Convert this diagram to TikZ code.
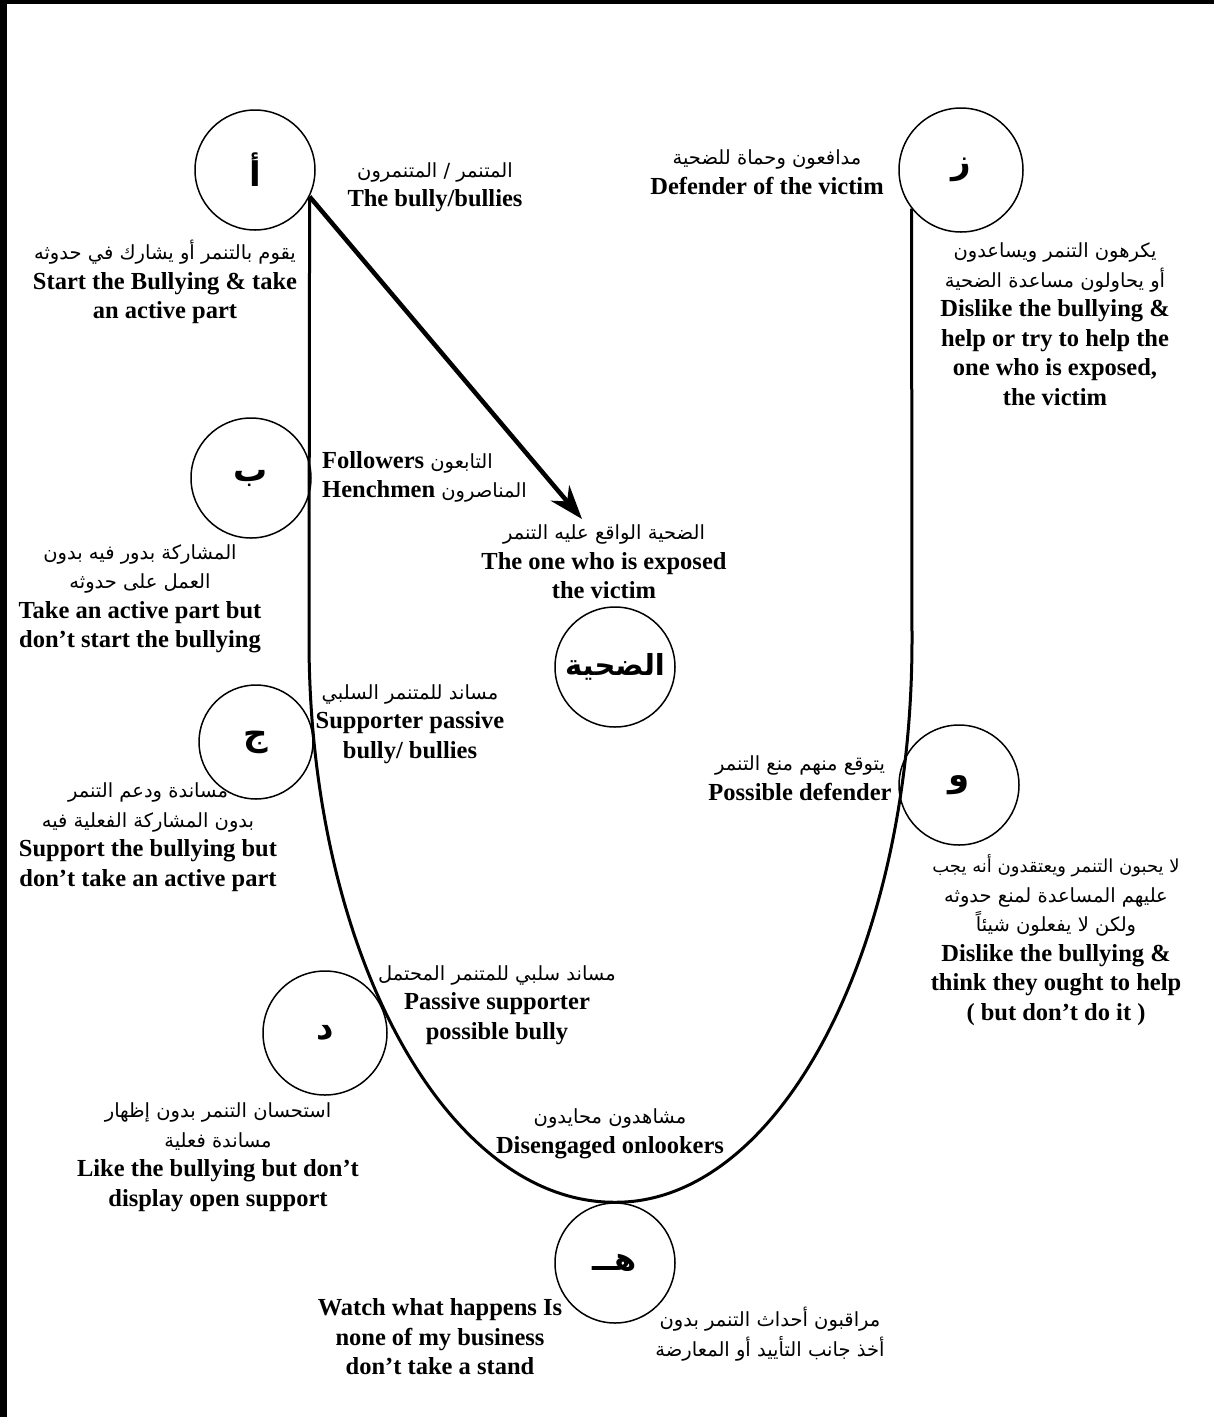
\documentclass[tikz,border=0pt]{standalone}
\usepackage{fontspec}
\setmainfont{Liberation Serif}
\newfontfamily\arabicfont[Script=Arabic]{DejaVu Sans}
\TeXXeTstate=1
\usetikzlibrary{arrows.meta}
\newcommand\artxt[1]{{\arabicfont\mdseries\fontsize{19.5}{29}\selectfont\beginR #1\endR}}
\tikzset{
  rolecircle/.style={circle, draw, line width=1.5pt, inner sep=0pt, minimum size=120pt,
    font=\arabicfont\bfseries\fontsize{34}{34}\selectfont},
  desc/.style={align=center, inner sep=0pt, font=\bfseries\fontsize{24.5}{29.5}\selectfont},
  uline/.style={line width=3pt},
  pointer/.style={line width=4.5pt, -{Stealth[length=34pt,width=24pt,inset=11pt]}},
}
\begin{document}
\begin{tikzpicture}[x=1pt,y=-1pt]
    \useasboundingbox (0,0) rectangle (1214,1417);
    \draw[line width=7pt] (3.5,0) -- (3.5,1417);
    \draw[line width=4pt] (0,2) -- (1214,2);
    % circles
    \node[rolecircle] (bully) at (255,170) {أ};
    \node[rolecircle] (henchmen) at (251,478) {ب};
    \node[rolecircle, minimum size=114pt] (supporter) at (256,742) {ج};
    \node[rolecircle, minimum size=124pt] (passive) at (325,1033) {د};
    \node[rolecircle, font=\arabicfont\bfseries\fontsize{32}{32}\selectfont] (onlooker) at (615,1263) {\beginR هــ\endR};
    \node[rolecircle] (possible) at (959,785) {و};
    \node[rolecircle, minimum size=124pt] (defender) at (961,170) {ز};
    \node[rolecircle, font=\arabicfont\bfseries\fontsize{29}{29}\selectfont] (victim) at (615,667) {\beginR الضحية\endR};
    % the U line
    \coordinate (lbend) at (309,640);
    \coordinate (rbend) at (912,640);
    \draw[uline] (bully.-26) -- (lbend)
        .. controls (309,951) and (446,1203) .. (onlooker.north)
        .. controls (779,1203) and (912,951) .. (rbend) -- (defender.-142);
    \coordinate (victimtip) at (582,519);
    \draw[pointer] (bully.-26) -- (victimtip);
    % texts
    \node[desc] (bullyname) at (435,187) {\artxt{المتنمر / المتنمرون}\\The bully/bullies};
    \node[desc] (bullyrole) at (165,282) {\artxt{يقوم بالتنمر أو يشارك في حدوثه}\\Start the Bullying \& take\\an active part};
    \node[desc] (defendername) at (767,172) {\artxt{مدافعون وحماة للضحية}\\Defender of the victim};
    \node[desc] (defenderrole) at (1055,324) {\artxt{يكرهون التنمر ويساعدون}\\\artxt{أو يحاولون مساعدة الضحية}\\Dislike the bullying \&\\help or try to help the\\one who is exposed,\\the victim};
    \node[desc, align=left, anchor=west] (henchmenname) at (322,477) {Followers \artxt{التابعون}\\Henchmen \artxt{المناصرون}};
    \node[desc] (henchmenrole) at (140,599) {\artxt{المشاركة بدور فيه بدون}\\\artxt{العمل على حدوثه}\\Take an active part but\\don’t start the bullying};
    \node[desc] (victimname) at (604,562) {\artxt{الضحية الواقع عليه التنمر}\\The one who is exposed\\the victim};
    \node[desc] (supportername) at (410,724) {\artxt{مساند للمتنمر السلبي}\\Supporter passive\\bully/ bullies};
    \node[desc] (supporterrole) at (148,837) {\artxt{مساندة ودعم التنمر}\\\artxt{بدون المشاركة الفعلية فيه}\\Support the bullying but\\don’t take an active part};
    \node[desc] (possiblename) at (800,778) {\artxt{يتوقع منهم منع التنمر}\\Possible defender};
    \node[desc] (possiblerole) at (1056,940) {{\arabicfont\mdseries\fontsize{18}{29}\selectfont\beginR لا يحبون التنمر ويعتقدون أنه يجب\endR}\\\artxt{عليهم المساعدة لمنع حدوثه}\\\artxt{ولكن لا يفعلون شيئاً}\\Dislike the bullying \&\\think they ought to help\\( but don’t do it )};
    \node[desc] (passivename) at (497,1005) {\artxt{مساند سلبي للمتنمر المحتمل}\\Passive supporter\\possible bully};
    \node[desc] (passiverole) at (218,1157) {\artxt{استحسان التنمر بدون إظهار}\\\artxt{مساندة فعلية}\\Like the bullying but don’t\\display open support};
    \node[desc] (onlookername) at (610,1134) {\artxt{مشاهدون محايدون}\\Disengaged onlookers};
    \node[desc] (onlookerrole) at (440,1337) {Watch what happens Is\\none of my business\\don’t take a stand};
    \node[desc] (onlookerrolear) at (770,1334) {\artxt{مراقبون أحداث التنمر بدون}\\\artxt{أخذ جانب التأييد أو المعارضة}};
\end{tikzpicture}
\end{document}
